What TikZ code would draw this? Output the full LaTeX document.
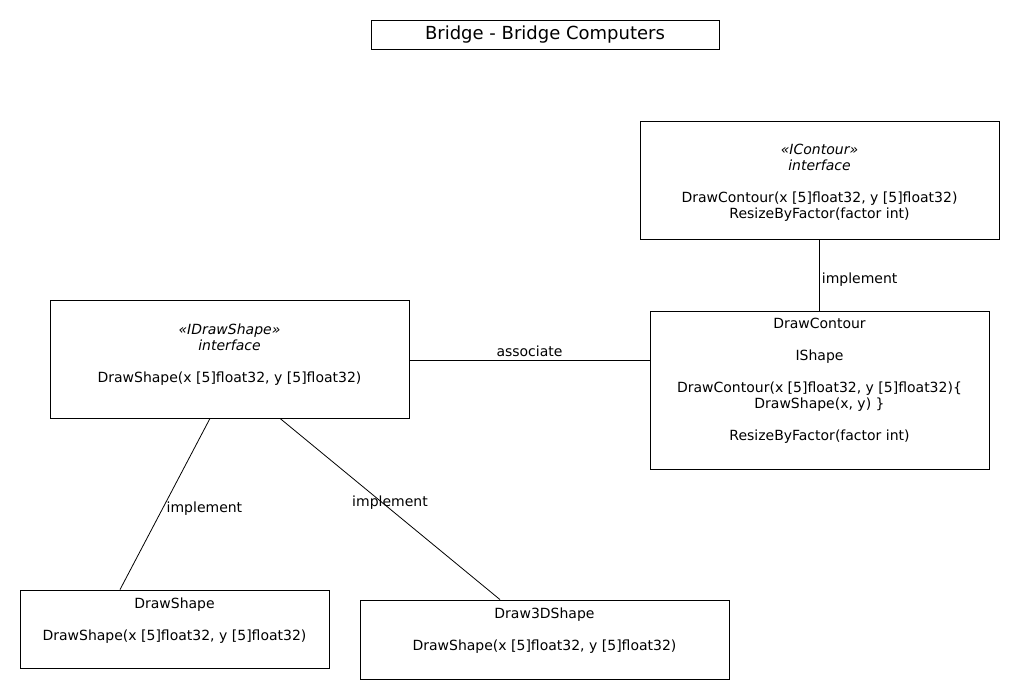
\documentclass[tikz,border=0pt]{standalone}
\usepackage{fontspec}
\setmainfont{DejaVu Sans}
\usetikzlibrary{calc}

\begin{document}
\begin{tikzpicture}[x=1pt, y=-1pt,
    umlbox/.style={draw, line width=0.8pt, inner sep=0pt, align=center,
      font=\fontsize{14}{16}\selectfont},
    edgelabel/.style={font=\fontsize{14}{16}\selectfont, inner sep=2pt}]
      \fill[white] (0,0) rectangle (1020,700);
      \useasboundingbox (0,0) rectangle (1020,700);

      % title
      \node[umlbox, font=\fontsize{18}{20}\selectfont, minimum width=348pt, minimum height=29pt]
        (title) at (545,34.5) {Bridge - Bridge Computers};

      % interfaces
      \node[umlbox, minimum width=359pt, minimum height=118pt] (icontour) at (819.5,180)
        {\rule{0pt}{16.5pt}\textit{«IContour»}\\ \textit{interface}\\[16pt]
         DrawContour(x [5]float32, y [5]float32)\\ ResizeByFactor(factor int)};

      \node[umlbox, minimum width=359pt, minimum height=118pt] (idrawshape) at (229.5,359)
        {\textit{«IDrawShape»}\\ \textit{interface}\\[16pt]
         DrawShape(x [5]float32, y [5]float32)\\[-4pt] \mbox{}};

      % classes
      \node[umlbox, minimum width=339pt, minimum height=158pt] (drawcontour) at (819.5,390)
        {DrawContour\\[16pt] IShape\\[16pt]
         DrawContour(x [5]float32, y [5]float32)\{\\ DrawShape(x, y) \}\\[16pt]
         ResizeByFactor(factor int)\\[6pt] \mbox{}};

      \node[umlbox, minimum width=309pt, minimum height=78pt] (drawshape) at (174.5,629)
        {DrawShape\\[16pt] DrawShape(x [5]float32, y [5]float32)\\[4pt] \mbox{}};

      \node[umlbox, minimum width=369pt, minimum height=79pt] (draw3dshape) at (544.5,639.5)
        {Draw3DShape\\[16pt] DrawShape(x [5]float32, y [5]float32)\\[4pt] \mbox{}};

      % relations
      \draw[line width=0.8pt] (icontour.south) -- (drawcontour.north)
        node[edgelabel, pos=0.57, right] {implement};
      \draw[line width=0.8pt] (idrawshape.east |- 0,360) -- (drawcontour.west |- 0,360)
        node[edgelabel, midway, above, inner sep=3pt] {associate};
      \draw[line width=0.8pt] ([xshift=-19.5pt]idrawshape.south) -- ([xshift=-54.5pt]drawshape.north)
        node[edgelabel, pos=0.53, right, inner sep=4pt] {implement};
      \draw[line width=0.8pt] ([xshift=50.5pt]idrawshape.south) -- ([xshift=-44.5pt]draw3dshape.north)
        node[edgelabel, midway, above, yshift=-3pt] {implement};
\end{tikzpicture}
\end{document}
